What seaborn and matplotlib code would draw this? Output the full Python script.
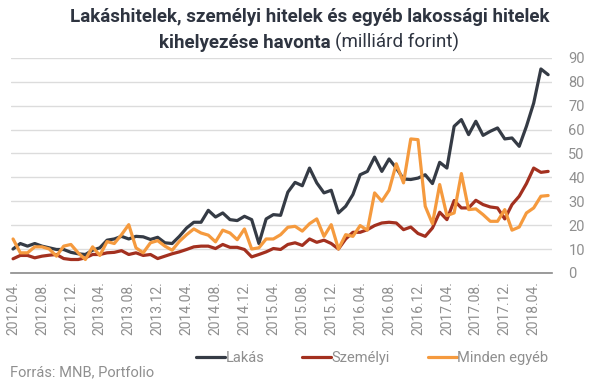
import numpy as np
import pandas as pd
import matplotlib
matplotlib.use("Agg")
import matplotlib.pyplot as plt
import seaborn as sns

# ---- data (monthly, 2012.04 - 2018.06, billion HUF) ----
start_year, start_month = 2012, 4
lakas = [10.0, 12.3, 11.2, 12.3, 11.2, 10.5, 9.8, 9.8, 8.6, 8.0,
         7.7, 9.5, 10.5, 13.7, 14.2, 15.3, 14.2, 15.3, 15.1, 14.0,
         14.9, 12.6, 12.3, 15.3, 18.8, 21.2, 21.2, 26.2, 23.4, 25.1,
         22.3, 21.9, 23.7, 22.3, 12.3, 22.6, 24.4, 24.1, 33.8, 37.9,
         36.5, 43.9, 37.7, 33.5, 34.6, 25.1, 27.9, 32.8, 41.1, 42.5,
         48.5, 42.5, 47.7, 43.9, 39.3, 39.1, 39.7, 41.1, 37.4, 46.3,
         43.9, 61.4, 64.2, 57.9, 63.5, 57.6, 59.3, 60.7, 56.1, 56.5,
         53.0, 61.4, 71.1, 85.4, 83.0]
szemelyi = [5.9, 7.3, 7.3, 6.3, 7.0, 7.4, 7.7, 6.0, 5.6, 5.6,
            6.3, 7.7, 7.7, 8.4, 8.6, 9.3, 7.7, 8.4, 7.3, 7.7,
            6.0, 7.0, 8.0, 8.8, 9.8, 10.9, 11.2, 11.2, 10.2, 11.9,
            10.7, 10.7, 9.8, 6.7, 7.7, 8.8, 10.2, 9.8, 11.9, 12.6,
            11.5, 14.2, 12.8, 13.7, 12.3, 10.0, 14.2, 17.0, 17.0, 18.1,
            19.8, 20.9, 21.2, 20.9, 18.1, 19.2, 16.5, 15.3, 18.8, 25.4,
            22.3, 30.3, 27.2, 27.2, 30.4, 28.6, 27.6, 27.2, 22.6, 28.6,
            32.1, 37.4, 43.9, 42.1, 42.5]
minden_egyeb = [14.2, 8.4, 8.4, 10.9, 10.9, 10.0, 7.0, 11.2, 11.9, 8.4,
                5.6, 10.9, 7.3, 13.1, 12.3, 16.0, 20.2, 10.5, 8.4, 12.6,
                13.5, 11.2, 9.5, 13.2, 16.0, 18.4, 16.7, 15.8, 13.0, 17.9,
                16.7, 13.9, 18.4, 10.0, 10.5, 14.2, 14.2, 16.0, 19.1, 19.5,
                17.5, 20.6, 22.6, 15.3, 20.2, 10.0, 16.0, 15.3, 19.8, 17.9,
                33.5, 30.0, 34.6, 45.7, 37.7, 56.1, 55.8, 27.9, 20.6, 37.0,
                24.0, 25.1, 41.6, 26.5, 26.8, 24.4, 21.6, 21.6, 26.5, 17.9,
                19.2, 25.1, 27.2, 32.1, 32.4]
series_names = ["Lakás", "Személyi", "Minden egyéb"]
series_colors = ["#353b45", "#a3301f", "#f59a3e"]
y_ticks = [0, 10, 20, 30, 40, 50, 60, 70, 80, 90]

n = len(lakas)
month_idx = np.arange(n)
labels = []
for i in month_idx:
    y = start_year + (start_month - 1 + i) // 12
    m = (start_month - 1 + i) % 12 + 1
    labels.append(f"{y}.{m:02d}.")

df = pd.DataFrame({
    "idx": np.tile(month_idx, 3),
    "value": lakas + szemelyi + minden_egyeb,
    "series": np.repeat(series_names, n),
})

sns.set_theme(style="white")
plt.rcParams["font.family"] = ["Roboto", "DejaVu Sans"]

fig = plt.figure(figsize=(6.05, 3.79), dpi=100)
ax = fig.add_axes([0.018, 0.280, 0.894, 0.567])

sns.lineplot(data=df, x="idx", y="value", hue="series", hue_order=series_names,
             palette=series_colors, linewidth=2.3, ax=ax, legend=True)

gray = "#8f8f8f"
ax.set_ylim(0, 90)
ax.set_xlim(-0.3, n - 0.5)
ax.set_yticks(y_ticks)
ax.yaxis.tick_right()
ax.tick_params(axis="y", length=0, pad=12, labelsize=10.5, labelcolor=gray)
for lbl in ax.get_yticklabels():
    lbl.set_horizontalalignment("left")
tick_pos = month_idx[::4]
ax.set_xticks(tick_pos)
ax.set_xticklabels([labels[i] for i in tick_pos], rotation=90)
ax.tick_params(axis="x", length=0, pad=6, labelsize=10, labelcolor=gray)
ax.set_xlabel("")
ax.set_ylabel("")
ax.grid(axis="y", color="#dcdcdc", linewidth=1)
ax.set_axisbelow(True)
for s in ["top", "left", "right"]:
    ax.spines[s].set_visible(False)
ax.spines["bottom"].set_color("#8a8a8a")
ax.spines["bottom"].set_linewidth(1.2)

handles, lbls = ax.get_legend_handles_labels()
ax.legend_.remove()
fig.legend(handles, lbls, loc="center", bbox_to_anchor=(372 / 605, 1 - 358 / 379),
           ncol=3, frameon=False, handlelength=2.0, handletextpad=0.0,
           columnspacing=2.6, fontsize=10.5, labelcolor=gray)

title_color = "#2e3440"
tsize = 13.5
fig.text(310 / 605, 1 - 22 / 379, "Lakáshitelek, személyi hitelek és egyéb lakossági hitelek",
         ha="center", va="baseline", fontsize=tsize, fontweight="bold", color=title_color)

# second title line: bold part + regular part, centred together
renderer = fig.canvas.get_renderer()
t_bold = fig.text(0, 1 - 48 / 379, "kihelyezése havonta ",
                  ha="left", va="baseline", fontsize=tsize, fontweight="bold", color=title_color)
t_reg = fig.text(0, 1 - 48 / 379, "(milliárd forint)",
                 ha="left", va="baseline", fontsize=tsize, color=title_color)
w_bold = t_bold.get_window_extent(renderer).width
w_reg = t_reg.get_window_extent(renderer).width
total = w_bold + w_reg
x0 = 309 - total / 2
t_bold.set_x(x0 / 605)
t_reg.set_x((x0 + w_bold) / 605)

fig.text(10 / 605, 1 - 376 / 379, "Forrás: MNB, Portfolio",
         ha="left", va="baseline", fontsize=10.5, color=gray)

fig.savefig("out.png", dpi=100)
